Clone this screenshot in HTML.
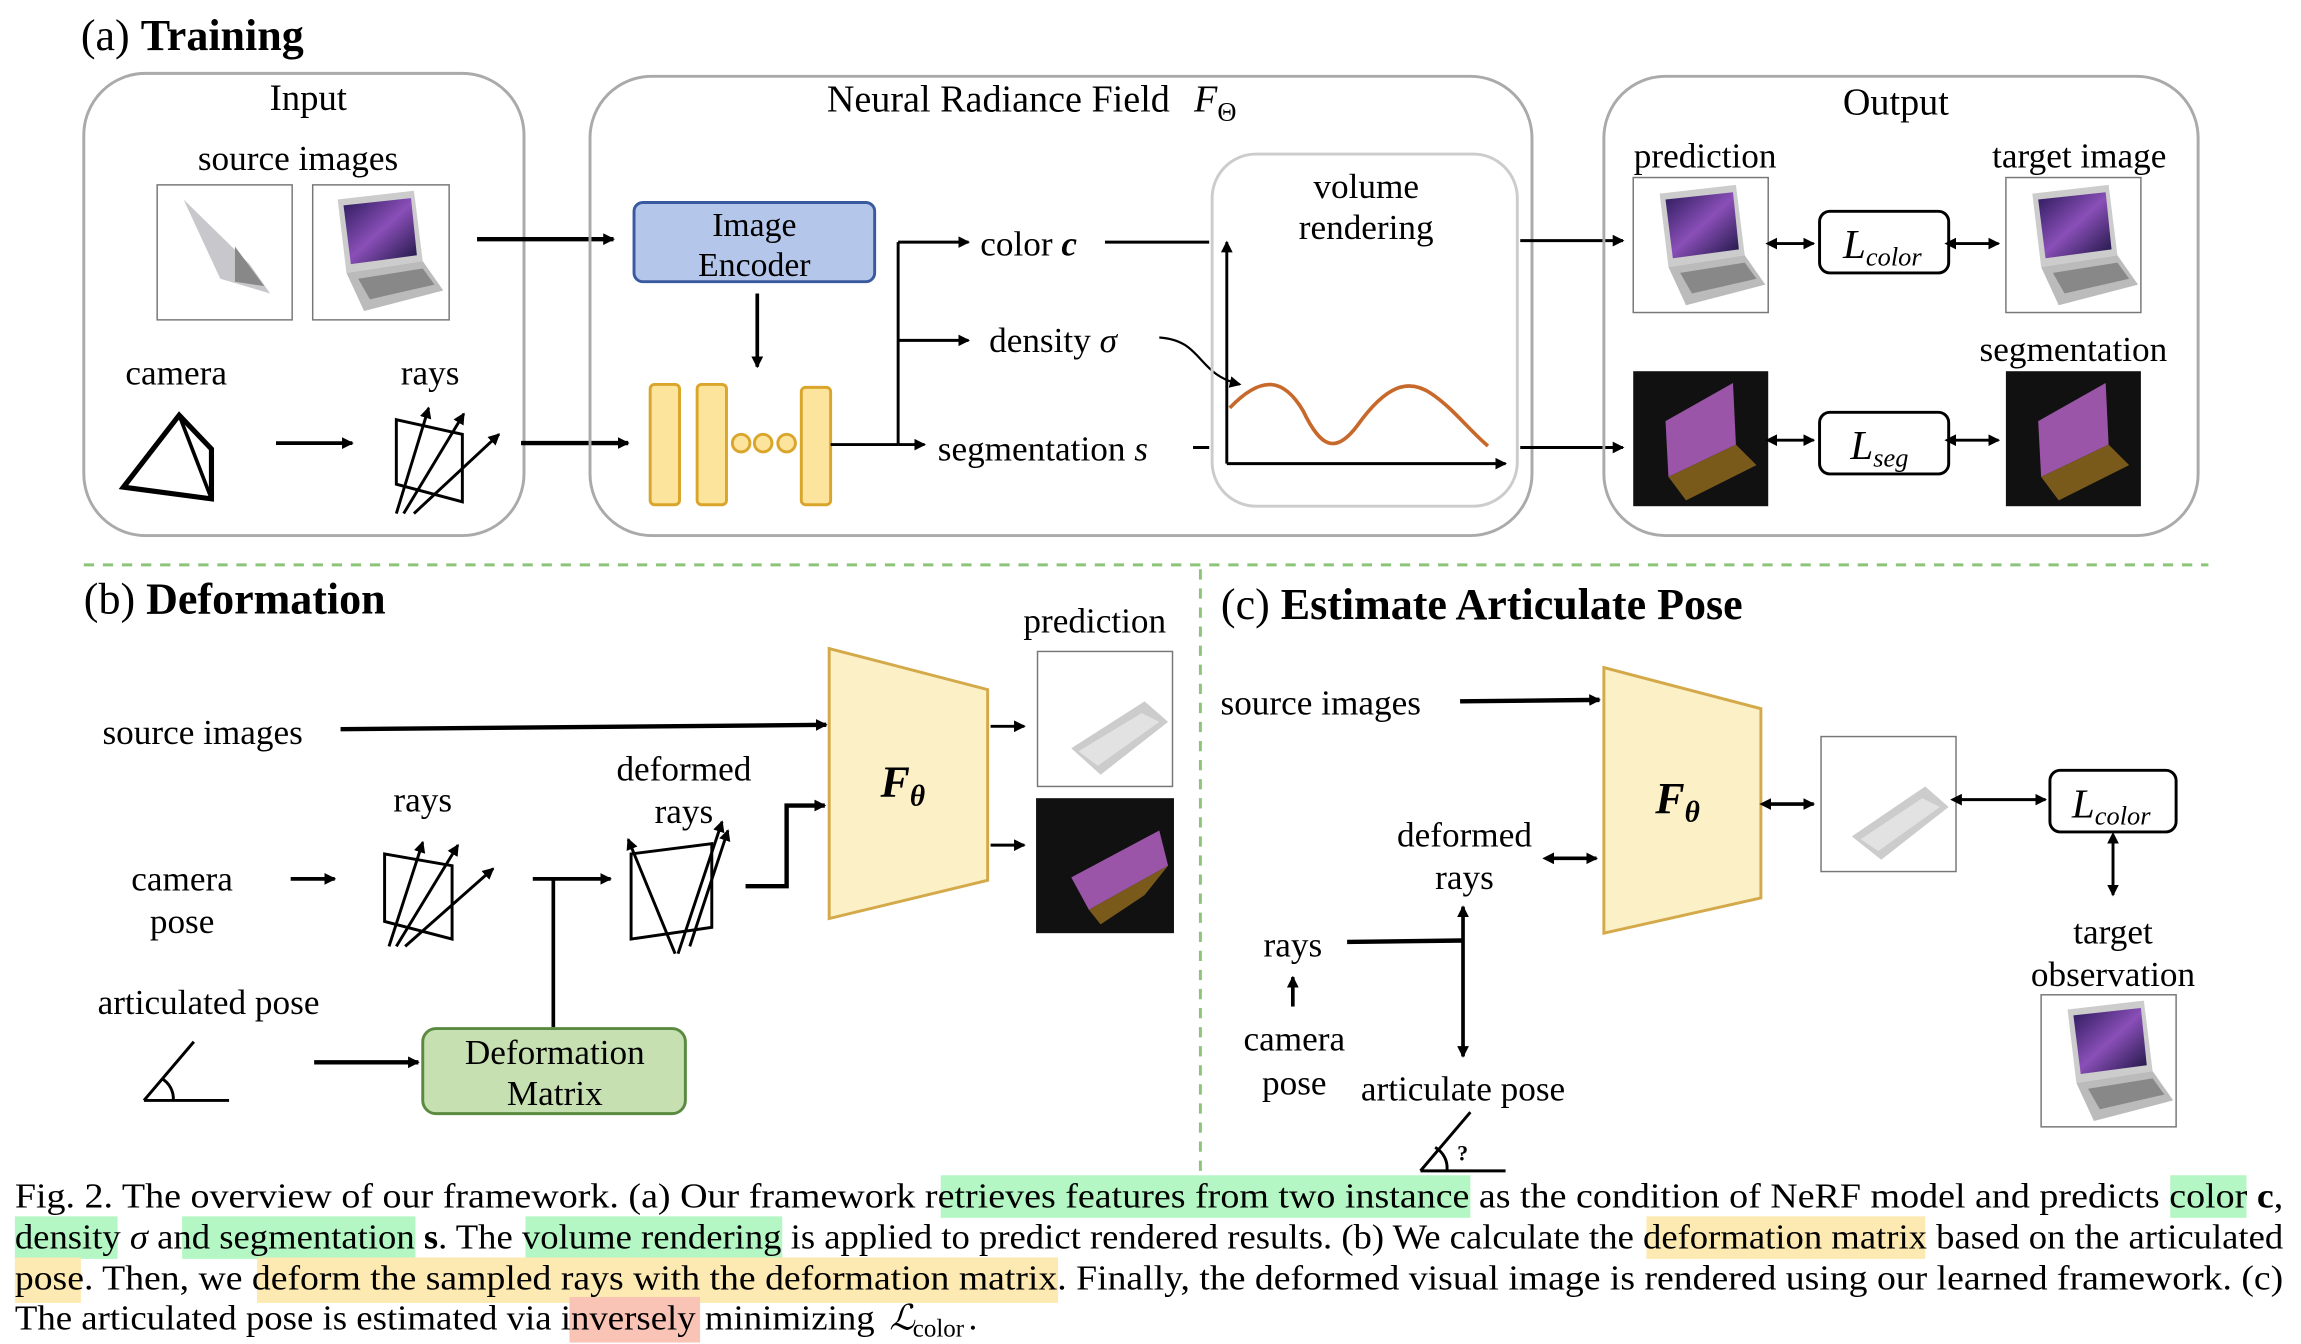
<!DOCTYPE html>
<html><head><meta charset="utf-8"><style>
html,body{margin:0;padding:0;background:#fff;}
svg{display:block;}
text{font-family:"Liberation Serif",serif;fill:#000;}
</style></head><body>
<svg width="2301" height="1344" viewBox="0 0 1568 916" xmlns="http://www.w3.org/2000/svg">
<defs>
<marker id="ah" markerWidth="8" markerHeight="8" refX="7" refY="4" orient="auto" markerUnits="userSpaceOnUse"><path d="M0,0 L8,4 L0,8 z" fill="#000"/></marker>
<marker id="ahs" markerWidth="8" markerHeight="8" refX="1" refY="4" orient="auto-start-reverse" markerUnits="userSpaceOnUse"><path d="M0,0 L8,4 L0,8 z" fill="#000"/></marker>
<linearGradient id="scr" x1="0" y1="0" x2="1" y2="1"><stop offset="0" stop-color="#2a1a5a"/><stop offset="0.5" stop-color="#8a4fb8"/><stop offset="1" stop-color="#1a1440"/></linearGradient>
<g id="laptopOpen"><polygon points="20,8 72,2 78,50 26,58" fill="#ccc"/><polygon points="24,12 70,7 74,46 29,52" fill="url(#scr)"/><polygon points="26,58 78,50 92,70 38,84" fill="#bbb"/><polygon points="34,62 78,55 86,66 42,76" fill="#888"/></g>
<g id="segImg"><rect width="92" height="92" fill="#111"/><polygon points="22,34 68,8 70,50 24,72" fill="#9a55a8"/><polygon points="24,72 70,50 84,64 36,88" fill="#7a5a1a"/></g>
</defs>

<text x="55" y="34" font-size="30">(a) <tspan font-weight="bold">Training</tspan></text>
<rect x="57" y="50" width="300" height="315" rx="42" fill="none" stroke="#aaa" stroke-width="2"/>
<text x="210" y="75" font-size="25" text-anchor="middle">Input</text>
<text x="203" y="116" font-size="24" text-anchor="middle">source images</text>
<rect x="107" y="126" width="92" height="92" fill="#fff" stroke="#777"/>
<polygon points="125,136 170,180 184,200 150,190" fill="#c8c8cc"/><polygon points="160,168 180,195 160,192" fill="#888"/>
<rect x="213" y="126" width="93" height="92" fill="#fff" stroke="#777"/>
<use href="#laptopOpen" x="210" y="128"/>
<text x="120" y="262" font-size="24" text-anchor="middle">camera</text>
<text x="293" y="262" font-size="24" text-anchor="middle">rays</text>
<polygon points="84,332 122,283 144,306 144,340" fill="none" stroke="#000" stroke-width="3.5"/>
<line x1="122" y1="283" x2="144" y2="340" stroke="#000" stroke-width="2.5"/>
<line x1="188" y1="302" x2="240" y2="302" stroke="#000" stroke-width="2.5" marker-end="url(#ah)"/>
<polygon points="270,286 315,296 315,342 270,330" fill="none" stroke="#000" stroke-width="2"/>
<g stroke="#000" stroke-width="2" marker-end="url(#ah)"><line x1="270" y1="350" x2="292" y2="278"/><line x1="275" y1="350" x2="316" y2="282"/><line x1="282" y1="350" x2="340" y2="296"/></g>
<line x1="325" y1="163" x2="418" y2="163" stroke="#000" stroke-width="3" marker-end="url(#ah)"/>
<line x1="355" y1="302" x2="428" y2="302" stroke="#000" stroke-width="3" marker-end="url(#ah)"/>

<rect x="402" y="52" width="642" height="313" rx="42" fill="none" stroke="#aaa" stroke-width="2"/>
<text x="703" y="76" font-size="26" text-anchor="middle">Neural Radiance Field <tspan font-style="italic" dx="10">F</tspan><tspan font-size="18" dy="6">Θ</tspan></text>
<rect x="432" y="138" width="164" height="54" rx="6" fill="#b4c7ea" stroke="#3a5aa0" stroke-width="2"/>
<text x="514" y="161" font-size="23" text-anchor="middle">Image</text><text x="514" y="188" font-size="23" text-anchor="middle">Encoder</text>
<line x1="516" y1="200" x2="516" y2="250" stroke="#000" stroke-width="2.5" marker-end="url(#ah)"/>
<g fill="#fde49c" stroke="#d9a52a" stroke-width="2">
<rect x="443" y="262" width="20" height="82" rx="3"/><rect x="475" y="262" width="20" height="82" rx="3"/><rect x="546" y="264" width="20" height="80" rx="3"/>
<circle cx="505" cy="302" r="6"/><circle cx="520" cy="302" r="6"/><circle cx="536" cy="302" r="6"/></g>
<g stroke="#000" stroke-width="2"><line x1="566" y1="303" x2="612" y2="303"/><line x1="612" y1="165" x2="612" y2="303"/>
<line x1="612" y1="165" x2="660" y2="165" marker-end="url(#ah)"/><line x1="612" y1="232" x2="660" y2="232" marker-end="url(#ah)"/><line x1="612" y1="303" x2="630" y2="303" marker-end="url(#ah)"/>
<line x1="753" y1="165" x2="824" y2="165"/><line x1="813" y1="305" x2="824" y2="305"/></g>
<text x="668" y="174" font-size="24">color <tspan font-style="italic" font-weight="bold">c</tspan></text>
<text x="674" y="240" font-size="24">density <tspan font-style="italic">σ</tspan></text>
<text x="639" y="314" font-size="24">segmentation <tspan font-style="italic">s</tspan></text>
<path d="M790,230 C820,232 815,255 845,262" fill="none" stroke="#000" stroke-width="1.5" marker-end="url(#ah)"/>
<rect x="826" y="105" width="208" height="240" rx="30" fill="none" stroke="#ccc" stroke-width="2"/>
<text x="931" y="135" font-size="24" text-anchor="middle">volume</text><text x="931" y="163" font-size="24" text-anchor="middle">rendering</text>
<line x1="836" y1="316" x2="836" y2="165" stroke="#000" stroke-width="2" marker-end="url(#ah)"/>
<line x1="836" y1="316" x2="1026" y2="316" stroke="#000" stroke-width="2" marker-end="url(#ah)"/>
<path d="M838,278 C860,255 875,258 888,280 C900,305 910,310 925,290 C945,262 960,258 975,268 C990,278 1000,292 1014,304" fill="none" stroke="#c8692c" stroke-width="2.5"/>
<line x1="1036" y1="164" x2="1106" y2="164" stroke="#000" stroke-width="2" marker-end="url(#ah)"/>
<line x1="1036" y1="305" x2="1106" y2="305" stroke="#000" stroke-width="2" marker-end="url(#ah)"/>

<rect x="1093" y="52" width="405" height="313" rx="42" fill="none" stroke="#aaa" stroke-width="2"/>
<text x="1292" y="78" font-size="26" text-anchor="middle">Output</text>
<text x="1162" y="114" font-size="24" text-anchor="middle">prediction</text>
<text x="1417" y="114" font-size="24" text-anchor="middle">target image</text>
<text x="1413" y="246" font-size="24" text-anchor="middle">segmentation</text>
<rect x="1113" y="121" width="92" height="92" fill="#fff" stroke="#777"/><use href="#laptopOpen" x="1111" y="124"/>
<rect x="1367" y="121" width="92" height="92" fill="#fff" stroke="#777"/><use href="#laptopOpen" x="1365" y="124"/>
<use href="#segImg" x="1113" y="253"/><use href="#segImg" x="1367" y="253"/>
<rect x="1240" y="144" width="88" height="42" rx="7" fill="#fff" stroke="#000" stroke-width="2"/>
<text x="1256" y="176" font-size="28" font-style="italic">L<tspan font-size="18" dy="5">color</tspan></text>
<rect x="1240" y="281" width="88" height="42" rx="7" fill="#fff" stroke="#000" stroke-width="2"/>
<text x="1261" y="313" font-size="28" font-style="italic">L<tspan font-size="18" dy="5">seg</tspan></text>
<g stroke="#000" stroke-width="2" marker-end="url(#ah)" marker-start="url(#ahs)">
<line x1="1210" y1="166" x2="1236" y2="166"/><line x1="1332" y1="166" x2="1362" y2="166"/>
<line x1="1210" y1="300" x2="1236" y2="300"/><line x1="1332" y1="300" x2="1362" y2="300"/></g>

<line x1="57" y1="385" x2="1505" y2="385" stroke="#8cc47a" stroke-width="2" stroke-dasharray="7,6"/>
<line x1="818" y1="388" x2="818" y2="800" stroke="#8cc47a" stroke-width="2" stroke-dasharray="7,6"/>

<text x="57" y="418" font-size="30">(b) <tspan font-weight="bold">Deformation</tspan></text>
<text x="138" y="507" font-size="24" text-anchor="middle">source images</text>
<line x1="232" y1="497" x2="563" y2="494" stroke="#000" stroke-width="3" marker-end="url(#ah)"/>
<text x="288" y="553" font-size="24" text-anchor="middle">rays</text>
<text x="124" y="607" font-size="24" text-anchor="middle">camera</text><text x="124" y="636" font-size="24" text-anchor="middle">pose</text>
<line x1="198" y1="599" x2="228" y2="599" stroke="#000" stroke-width="2.5" marker-end="url(#ah)"/>
<polygon points="262,582 308,590 308,640 262,628" fill="none" stroke="#000" stroke-width="2"/>
<g stroke="#000" stroke-width="2" marker-end="url(#ah)"><line x1="265" y1="645" x2="288" y2="574"/><line x1="270" y1="645" x2="312" y2="576"/><line x1="276" y1="645" x2="336" y2="592"/></g>
<text x="142" y="691" font-size="24" text-anchor="middle">articulated  pose</text>
<path d="M98,750 L132,710 M98,750 L156,750 M110,735 A16,16 0 0 1 118,750" fill="none" stroke="#000" stroke-width="2"/>
<line x1="214" y1="724" x2="285" y2="724" stroke="#000" stroke-width="3" marker-end="url(#ah)"/>
<rect x="288" y="701" width="179" height="58" rx="9" fill="#c7e0b2" stroke="#5a8a40" stroke-width="2"/>
<text x="378" y="725" font-size="24" text-anchor="middle">Deformation</text><text x="378" y="753" font-size="24" text-anchor="middle">Matrix</text>
<line x1="377" y1="700" x2="377" y2="599" stroke="#000" stroke-width="2.5"/>
<line x1="363" y1="599" x2="416" y2="599" stroke="#000" stroke-width="2.5" marker-end="url(#ah)"/>
<text x="466" y="532" font-size="24" text-anchor="middle">deformed</text><text x="466" y="561" font-size="24" text-anchor="middle">rays</text>
<polygon points="430,582 485,575 485,632 430,640" fill="none" stroke="#000" stroke-width="2"/>
<g stroke="#000" stroke-width="2" marker-end="url(#ah)"><line x1="460" y1="650" x2="428" y2="572"/><line x1="462" y1="650" x2="492" y2="560"/><line x1="470" y1="645" x2="496" y2="566"/></g>
<path d="M508,604 L536,604 L536,549 L562,549" fill="none" stroke="#000" stroke-width="3" marker-end="url(#ah)"/>
<polygon points="565,442 673,470 673,600 565,626" fill="#fcf0c6" stroke="#d4a94a" stroke-width="2"/>
<text x="600" y="543" font-size="30" font-style="italic" font-weight="bold">F<tspan font-size="20" dy="6">θ</tspan></text>
<line x1="675" y1="495" x2="698" y2="495" stroke="#000" stroke-width="2" marker-end="url(#ah)"/>
<line x1="675" y1="576" x2="698" y2="576" stroke="#000" stroke-width="2" marker-end="url(#ah)"/>
<text x="746" y="431" font-size="24" text-anchor="middle">prediction</text>
<rect x="707" y="444" width="92" height="92" fill="#fff" stroke="#777"/>
<polygon points="730,510 780,478 796,492 750,528" fill="#ccc"/><polygon points="735,512 778,486 790,492 748,522" fill="#e2e2e2"/>
<rect x="706" y="544" width="94" height="92" fill="#111"/>
<polygon points="730,598 790,566 796,590 742,620" fill="#9a55a8"/><polygon points="742,620 796,590 780,610 750,630" fill="#7a5a1a"/>

<text x="832" y="422" font-size="30">(c) <tspan font-weight="bold">Estimate Articulate Pose</tspan></text>
<text x="900" y="487" font-size="24" text-anchor="middle">source images</text>
<line x1="995" y1="478" x2="1090" y2="477" stroke="#000" stroke-width="3" marker-end="url(#ah)"/>
<polygon points="1093,455 1200,483 1200,612 1093,636" fill="#fcf0c6" stroke="#d4a94a" stroke-width="2"/>
<text x="1128" y="554" font-size="30" font-style="italic" font-weight="bold">F<tspan font-size="20" dy="6">θ</tspan></text>
<text x="998" y="577" font-size="24" text-anchor="middle">deformed</text><text x="998" y="606" font-size="24" text-anchor="middle">rays</text>
<line x1="1058" y1="585" x2="1088" y2="585" stroke="#000" stroke-width="2.5" marker-end="url(#ah)" marker-start="url(#ahs)"/>
<text x="881" y="652" font-size="24" text-anchor="middle">rays</text>
<line x1="881" y1="686" x2="881" y2="666" stroke="#000" stroke-width="2.5" marker-end="url(#ah)"/>
<text x="882" y="716" font-size="24" text-anchor="middle">camera</text><text x="882" y="746" font-size="24" text-anchor="middle">pose</text>
<text x="997" y="750" font-size="24" text-anchor="middle">articulate  pose</text>
<line x1="918" y1="642" x2="997" y2="641" stroke="#000" stroke-width="3"/>
<line x1="997" y1="640" x2="997" y2="618" stroke="#000" stroke-width="2.5" marker-end="url(#ah)"/>
<line x1="997" y1="640" x2="997" y2="720" stroke="#000" stroke-width="2.5" marker-end="url(#ah)"/>
<path d="M968,798 L1002,758 M968,798 L1026,798 M978,782 A16,16 0 0 1 986,798" fill="none" stroke="#000" stroke-width="2"/>
<text x="993" y="791" font-size="15" font-weight="bold">?</text>
<line x1="1206" y1="548" x2="1236" y2="548" stroke="#000" stroke-width="2.5" marker-end="url(#ah)" marker-start="url(#ahs)"/>
<rect x="1241" y="502" width="92" height="92" fill="#fff" stroke="#777"/>
<polygon points="1262,570 1312,536 1328,550 1282,586" fill="#ccc"/><polygon points="1268,572 1310,544 1322,550 1280,580" fill="#e2e2e2"/>
<line x1="1336" y1="545" x2="1394" y2="545" stroke="#000" stroke-width="2" marker-end="url(#ah)" marker-start="url(#ahs)"/>
<rect x="1397" y="525" width="86" height="42" rx="7" fill="#fff" stroke="#000" stroke-width="2"/>
<text x="1412" y="557" font-size="28" font-style="italic">L<tspan font-size="18" dy="5">color</tspan></text>
<line x1="1440" y1="574" x2="1440" y2="610" stroke="#000" stroke-width="2" marker-end="url(#ah)" marker-start="url(#ahs)"/>
<text x="1440" y="643" font-size="24" text-anchor="middle">target</text><text x="1440" y="672" font-size="24" text-anchor="middle">observation</text>
<rect x="1391" y="678" width="92" height="90" fill="#fff" stroke="#777"/><use href="#laptopOpen" x="1389" y="680"/>

<g>
<rect x="641" y="801" width="361" height="29" fill="#b4f7c4"/><rect x="1479" y="801" width="52" height="29" fill="#b4f7c4"/>
<rect x="10" y="829" width="70" height="29" fill="#b4f7c4"/><rect x="124" y="829" width="159" height="29" fill="#b4f7c4"/><rect x="358" y="829" width="175" height="29" fill="#b4f7c4"/><rect x="1122" y="829" width="190" height="29" fill="#fdeab2"/>
<rect x="10" y="857" width="45" height="31" fill="#fdeab2"/><rect x="175" y="857" width="546" height="31" fill="#fdeab2"/>
<rect x="388" y="884" width="89" height="31" fill="#f9c3b5"/>
</g>
<g font-size="24">
<text x="10" y="823" textLength="1546" lengthAdjust="spacingAndGlyphs">Fig. 2.   The overview of our framework. (a) Our framework retrieves features from two instance as the condition of NeRF model and predicts color <tspan font-weight="bold">c</tspan>,</text>
<text x="10" y="851" textLength="1546" lengthAdjust="spacingAndGlyphs">density <tspan font-style="italic">σ</tspan> and segmentation <tspan font-weight="bold">s</tspan>. The volume rendering is applied to predict rendered results. (b) We calculate the deformation matrix based on the articulated</text>
<text x="10" y="879" textLength="1546" lengthAdjust="spacingAndGlyphs">pose. Then, we deform the sampled rays with the deformation matrix. Finally, the deformed visual image is rendered using our learned framework. (c)</text>
<text x="10" y="906" textLength="586" lengthAdjust="spacingAndGlyphs">The articulated pose is estimated via inversely minimizing</text>
<text x="606" y="906" font-style="italic">ℒ</text><text x="622" y="911" font-size="17">color</text><text x="660" y="906">.</text>
</g>
</svg>
</body></html>
